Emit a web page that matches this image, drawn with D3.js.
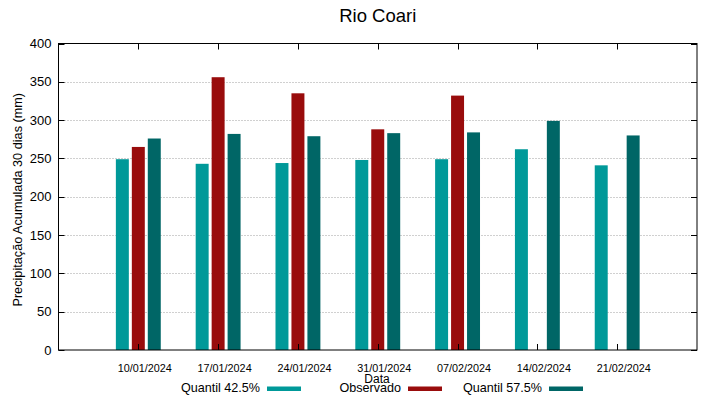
<!DOCTYPE html>
<html>
<head>
<meta charset="utf-8">
<script src="https://cdn.jsdelivr.net/npm/d3@7"></script>
<style>
  body { margin: 0; background: #fff; }
  svg { display: block; font-family: "Liberation Sans", Arial, sans-serif; }
</style>
</head>
<body>
<div id="chart"></div>
<script>
var dates = ['10/01/2024', '17/01/2024', '24/01/2024', '31/01/2024', '07/02/2024', '14/02/2024', '21/02/2024'];
var quantil425 = [249, 243, 244, 248, 249, 262, 241];
var observado = [265, 356, 335, 288, 332, null, null];
var quantil575 = [276, 282, 279, 283, 284, 299, 280];
var yTicks = [0, 50, 100, 150, 200, 250, 300, 350, 400];

var seriesNames = ['Quantil 42.5%', 'Observado', 'Quantil 57.5%'];
var seriesColors = ['#009999', '#990c0c', '#006666'];

var width = 719,
    height = 399,
    plotLeft = 58.5,
    plotRight = 697,
    plotTop = 43.5,
    plotBottom = 350;

var svg = d3.select('#chart').append('svg')
    .attr('width', width)
    .attr('height', height);

// groups sit at 1..7 on a 0..8 axis, like gnuplot's default histogram
var x = d3.scaleLinear().domain([0, dates.length + 1]).range([plotLeft, plotRight]);
var y = d3.scaleLinear().domain([0, 400]).range([plotBottom, plotTop]);

var barOffset = 0.2,
    barWidth = x(0.1625) - x(0);

// dotted grid
svg.append('g')
    .selectAll('line')
    .data(yTicks.filter(function(d) { return d > 0 && d < 400; }))
    .enter().append('line')
    .attr('x1', plotLeft).attr('x2', plotRight)
    .attr('y1', function(d) { return Math.round(y(d)) + 0.5; })
    .attr('y2', function(d) { return Math.round(y(d)) + 0.5; })
    .attr('stroke', '#a0a0a0')
    .attr('stroke-width', 1)
    .attr('stroke-dasharray', '1,2');

// bars
var table = [quantil425, observado, quantil575];
table.forEach(function(values, s) {
    svg.append('g')
        .selectAll('rect')
        .data(values.map(function(v, i) { return { i: i, v: v }; }).filter(function(d) { return d.v != null; }))
        .enter().append('rect')
        .attr('x', function(d) { return x(d.i + 1 + (s - 1) * barOffset) - barWidth / 2; })
        .attr('y', function(d) { return y(d.v); })
        .attr('width', barWidth)
        .attr('height', function(d) { return y(0) - y(d.v); })
        .attr('fill', seriesColors[s]);
});

// x ticks, bottom (up) and top (down)
var xt = svg.append('g');
dates.forEach(function(d, i) {
    var cx = Math.round(x(i + 1)) + 0.5;
    xt.append('line').attr('x1', cx).attr('x2', cx).attr('y1', plotBottom).attr('y2', plotBottom - 6)
        .attr('stroke', '#000');
    xt.append('line').attr('x1', cx).attr('x2', cx).attr('y1', plotTop).attr('y2', plotTop + 6)
        .attr('stroke', '#000');
    xt.append('text')
        .attr('x', x(i + 1) + 6.5)
        .attr('y', 371.5)
        .attr('text-anchor', 'middle')
        .attr('font-size', '10.8px')
        .attr('fill', '#000')
        .text(d);
});

// y ticks, mirrored on the right
var yAxis = d3.axisLeft(y).tickValues(yTicks).tickSize(0).tickPadding(7);
var ya = svg.append('g').attr('transform', 'translate(' + plotLeft + ',0)').call(yAxis);
ya.select('.domain').remove();
ya.selectAll('text').attr('font-size', '13px').attr('fill', '#000');
ya.attr('font-family', null).attr('font-size', null);

var yt = svg.append('g');
yTicks.forEach(function(d) {
    var cy = Math.round(y(d)) + 0.5;
    yt.append('line').attr('x1', plotLeft).attr('x2', plotLeft + 6).attr('y1', cy).attr('y2', cy).attr('stroke', '#000');
    yt.append('line').attr('x1', plotRight).attr('x2', plotRight - 6).attr('y1', cy).attr('y2', cy).attr('stroke', '#000');
});

// border
svg.append('rect')
    .attr('x', plotLeft).attr('y', plotTop)
    .attr('width', plotRight - plotLeft).attr('height', plotBottom - plotTop)
    .attr('fill', 'none')
    .attr('stroke', '#000')
    .attr('stroke-width', 1);

// title and axis labels
svg.append('text')
    .attr('x', (plotLeft + plotRight) / 2)
    .attr('y', 22)
    .attr('text-anchor', 'middle')
    .attr('font-size', '18.5px')
    .attr('fill', '#000')
    .text('Rio Coari');

svg.append('text')
    .attr('transform', 'translate(22,' + ((plotTop + plotBottom) / 2 + 3) + ') rotate(-90)')
    .attr('text-anchor', 'middle')
    .attr('font-size', '12.7px')
    .attr('fill', '#000')
    .text('Precipitação Acumulada 30 dias (mm)');

svg.append('text')
    .attr('x', 377)
    .attr('y', 382.5)
    .attr('text-anchor', 'middle')
    .attr('font-size', '12px')
    .attr('fill', '#000')
    .text('Data');

// legend
var legendX = [267, 408, 549];
seriesNames.forEach(function(name, s) {
    svg.append('rect')
        .attr('x', legendX[s])
        .attr('y', 386.5)
        .attr('width', 34)
        .attr('height', 4.5)
        .attr('fill', seriesColors[s]);
    svg.append('text')
        .attr('x', legendX[s] - 7)
        .attr('y', 391.5)
        .attr('text-anchor', 'end')
        .attr('font-size', '12.6px')
        .attr('fill', '#000')
        .text(name);
});
</script>
</body>
</html>
